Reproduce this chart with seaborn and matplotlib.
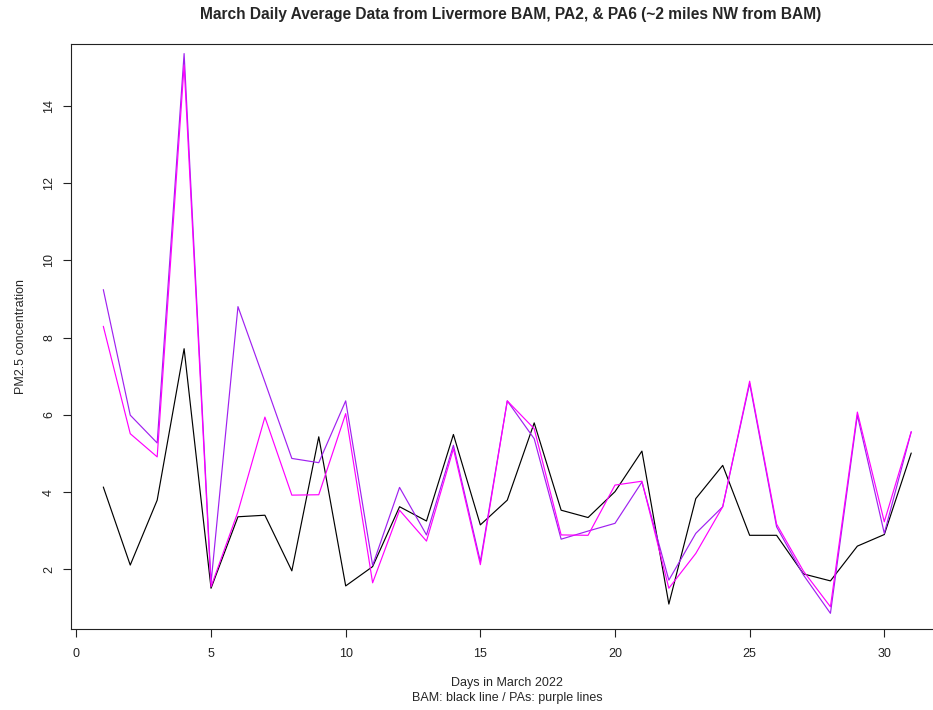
import numpy as np
import pandas as pd
import matplotlib
matplotlib.use("Agg")
import matplotlib.pyplot as plt
import seaborn as sns

# Daily averages, March 2022
days = list(range(1, 32))
bam = [4.13, 2.11, 3.79, 7.71, 1.51, 3.36, 3.40, 1.96, 5.43, 1.57,
       2.07, 3.62, 3.25, 5.49, 3.15, 3.79, 5.79, 3.53, 3.34, 4.01,
       5.06, 1.10, 3.83, 4.69, 2.88, 2.88, 1.88, 1.70, 2.60, 2.90, 5.01]
pa2 = [9.24, 5.99, 5.27, 15.35, 1.65, 8.80, 6.85, 4.87, 4.76, 6.36,
       2.10, 4.12, 2.89, 5.21, 2.20, 6.36, 5.38, 2.78, 2.99, 3.19,
       4.26, 1.72, 2.93, 3.62, 6.81, 3.10, 1.85, 0.86, 5.99, 2.93, 5.56]
pa6 = [8.29, 5.51, 4.91, 15.05, 1.55, 3.49, 5.94, 3.92, 3.93, 6.03,
       1.65, 3.53, 2.73, 5.12, 2.12, 6.36, 5.64, 2.89, 2.88, 4.18,
       4.28, 1.51, 2.41, 3.62, 6.87, 3.17, 1.95, 1.03, 6.07, 3.23, 5.56]

df = pd.DataFrame({"day": days, "BAM": bam, "PA2": pa2, "PA6": pa6})
long_df = df.melt(id_vars="day", var_name="sensor", value_name="pm25")

sns.set_style("ticks")
plt.rcParams["font.family"] = ["Liberation Sans", "DejaVu Sans"]

fig = plt.figure(figsize=(9.33, 7.10), dpi=100)
# plot box runs past the right edge, like the reference
ax = fig.add_axes([0.0761, 0.1141, 0.9352, 0.8235])

sns.lineplot(data=long_df, x="day", y="pm25", hue="sensor",
             palette={"BAM": "black", "PA2": "#A020F0", "PA6": "#FF00FF"},
             linewidth=0.85, legend=False, ax=ax)

ax.set_xlim(-0.2, 32.2)
ax.set_ylim(0.455, 15.59)
ax.set_xticks(range(0, 31, 5))
ax.set_yticks(range(2, 15, 2))

for side in ["top", "bottom", "left", "right"]:
    ax.spines[side].set_visible(True)
    ax.spines[side].set_color("#222222")
    ax.spines[side].set_linewidth(0.8)

ax.tick_params(axis="both", direction="out", length=5.5, width=0.8,
               labelsize=9, colors="#222222")
ax.tick_params(axis="x", pad=8)
ax.tick_params(axis="y", pad=6)
for lbl in ax.get_yticklabels():
    lbl.set_rotation(90)
    lbl.set_va("center")

# title centred on the visible part of the figure
fig.text(511 / 933, 1 - 15 / 710,
         "March Daily Average Data from Livermore BAM, PA2, & PA6 (~2 miles NW from BAM)",
         fontsize=11.2, fontweight="bold", ha="center", va="center")

ax.set_xlabel("Days in March 2022\nBAM: black line / PAs: purple lines",
              fontsize=9, linespacing=1.35)
ax.xaxis.set_label_coords((507 - 71) / 872.5, -0.082)
ax.set_ylabel("PM2.5 concentration", fontsize=9)
ax.yaxis.set_label_coords(-0.05, 0.5)

fig.savefig("out.png", dpi=100)
